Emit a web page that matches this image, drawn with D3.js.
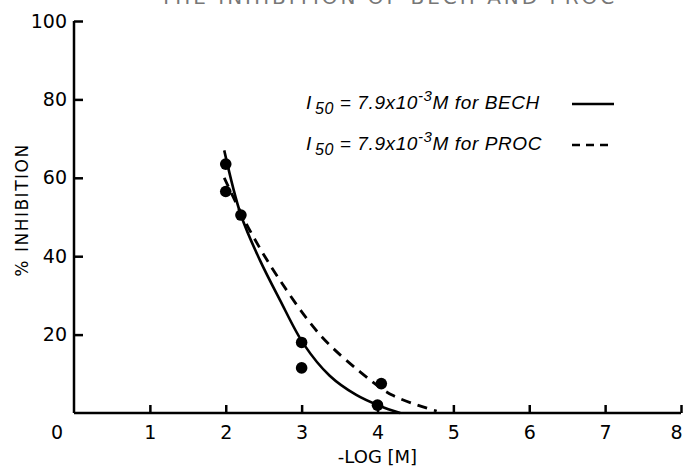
<!DOCTYPE html>
<html>
<head>
<meta charset="utf-8">
<script src="https://cdn.jsdelivr.net/npm/d3@7"></script>
<style>
  body { margin: 0; background: #fff; }
  svg { display: block; font-family: "DejaVu Sans", "Liberation Sans", sans-serif; }
  .axis path, .axis line { stroke: #000; stroke-width: 2.5; }
  .axis text { font-size: 19px; fill: #000; font-family: "DejaVu Sans", sans-serif; }
</style>
</head>
<body>
<svg id="chart"></svg>
<script>
// tick values
const xTicks = [1, 2, 3, 4, 5, 6, 7, 8];
const yTicks = [20, 40, 60, 80, 100];

// measured points (-log[M], % inhibition)
const pointX = [2.0, 2.0, 2.2, 3.0, 3.0, 4.05, 4.0];
const pointY = [63.5, 56.5, 50.5, 18, 11.5, 7.5, 2];

// fitted curve for BECH (solid)
const bechX = [1.98, 2.2, 2.45, 2.71, 3.03, 3.37, 3.72, 4.03, 4.3];
const bechY = [67, 50.5, 39, 29, 17.5, 9.5, 4.6, 1.8, 0];

// fitted curve for PROC (dashed)
const procX = [1.98, 2.32, 2.71, 3.24, 3.77, 4.2, 4.78];
const procY = [60, 46.5, 34, 20, 10.5, 4.5, 0.5];

const W = 684, H = 470;
const margin = {top: 21, right: 3, bottom: 57, left: 74};

const svg = d3.select('#chart').attr('width', W).attr('height', H);

const x = d3.scaleLinear().domain([0, 8]).range([margin.left, W - margin.right]);
const y = d3.scaleLinear().domain([0, 100]).range([H - margin.bottom, margin.top]);

// faint, cut-off caption at the very top of the scan
svg.append('text')
    .attr('x', 160).attr('y', 4)
    .attr('font-size', 20)
    .attr('letter-spacing', 3)
    .attr('fill', '#777')
    .text('THE INHIBITION OF BECH AND PROC');

// x axis, ticks pointing up
const xAxisG = svg.append('g')
    .attr('class', 'axis')
    .attr('transform', `translate(0,${y(0)})`)
    .call(d3.axisBottom(x).tickValues(xTicks).tickSizeInner(-8).tickSizeOuter(0));
xAxisG.select('.domain').attr('d', `M${x(0)},0H${x(8)}`);
xAxisG.selectAll('.tick text').attr('y', 13);
xAxisG.selectAll('.tick').filter(d => d === 8).select('text')
    .attr('text-anchor', 'end').attr('x', 1);

// y axis, ticks pointing right
const yAxisG = svg.append('g')
    .attr('class', 'axis')
    .attr('transform', `translate(${x(0)},0)`)
    .call(d3.axisLeft(y).tickValues(yTicks).tickSizeInner(-9).tickSizeOuter(0));
yAxisG.select('.domain').attr('d', `M0,${y(0)}V${y(100)}`);
yAxisG.selectAll('.tick text').attr('x', -7);

// origin label
svg.append('text')
    .attr('x', x(0) - 17).attr('y', y(0) + 26)
    .attr('text-anchor', 'middle')
    .attr('font-size', 19)
    .text('0');

// axis titles
svg.append('text')
    .attr('x', x(4)).attr('y', 463)
    .attr('text-anchor', 'middle')
    .attr('font-size', 18)
    .text('-LOG [M]');

svg.append('text')
    .attr('transform', `translate(28,210) rotate(-90)`)
    .attr('text-anchor', 'middle')
    .attr('font-size', 17)
    .attr('letter-spacing', 1.5)
    .text('% INHIBITION');

// curves
const line = d3.line()
    .x(d => x(d[0]))
    .y(d => y(d[1]))
    .curve(d3.curveCatmullRom.alpha(0.5));

svg.append('path')
    .datum(d3.zip(bechX, bechY))
    .attr('fill', 'none')
    .attr('stroke', '#000')
    .attr('stroke-width', 2.6)
    .attr('d', line);

svg.append('path')
    .datum(d3.zip(procX, procY))
    .attr('fill', 'none')
    .attr('stroke', '#000')
    .attr('stroke-width', 2.8)
    .attr('stroke-dasharray', '10,7')
    .attr('d', line);

// points
svg.selectAll('.dot')
    .data(d3.zip(pointX, pointY))
    .join('circle')
    .attr('class', 'dot')
    .attr('cx', d => x(d[0]))
    .attr('cy', d => y(d[1]))
    .attr('r', 5.8)
    .attr('fill', '#000');

// legend
const legend = [
  {name: 'BECH', dash: null, y: 109},
  {name: 'PROC', dash: '8,6', y: 150}
];
legend.forEach(l => {
  const t = svg.append('text')
      .attr('x', 306).attr('y', l.y)
      .attr('font-family', '"Liberation Sans", sans-serif')
      .attr('font-size', 19)
      .attr('font-style', 'italic')
      .attr('letter-spacing', 0.6);
  t.append('tspan').text('I');
  t.append('tspan').attr('dx', 3).attr('dy', 5).attr('font-size', 16).text('50');
  t.append('tspan').attr('dy', -5).text(' = 7.9x10');
  t.append('tspan').attr('dy', -8).attr('font-size', 15).text('-3');
  t.append('tspan').attr('dy', 8).text('M  for  ' + l.name);
  svg.append('line')
      .attr('x1', 572).attr('x2', 614)
      .attr('y1', l.y - 5).attr('y2', l.y - 5)
      .attr('stroke', '#000')
      .attr('stroke-width', 2.6)
      .attr('stroke-dasharray', l.dash);
});
</script>
</body>
</html>
